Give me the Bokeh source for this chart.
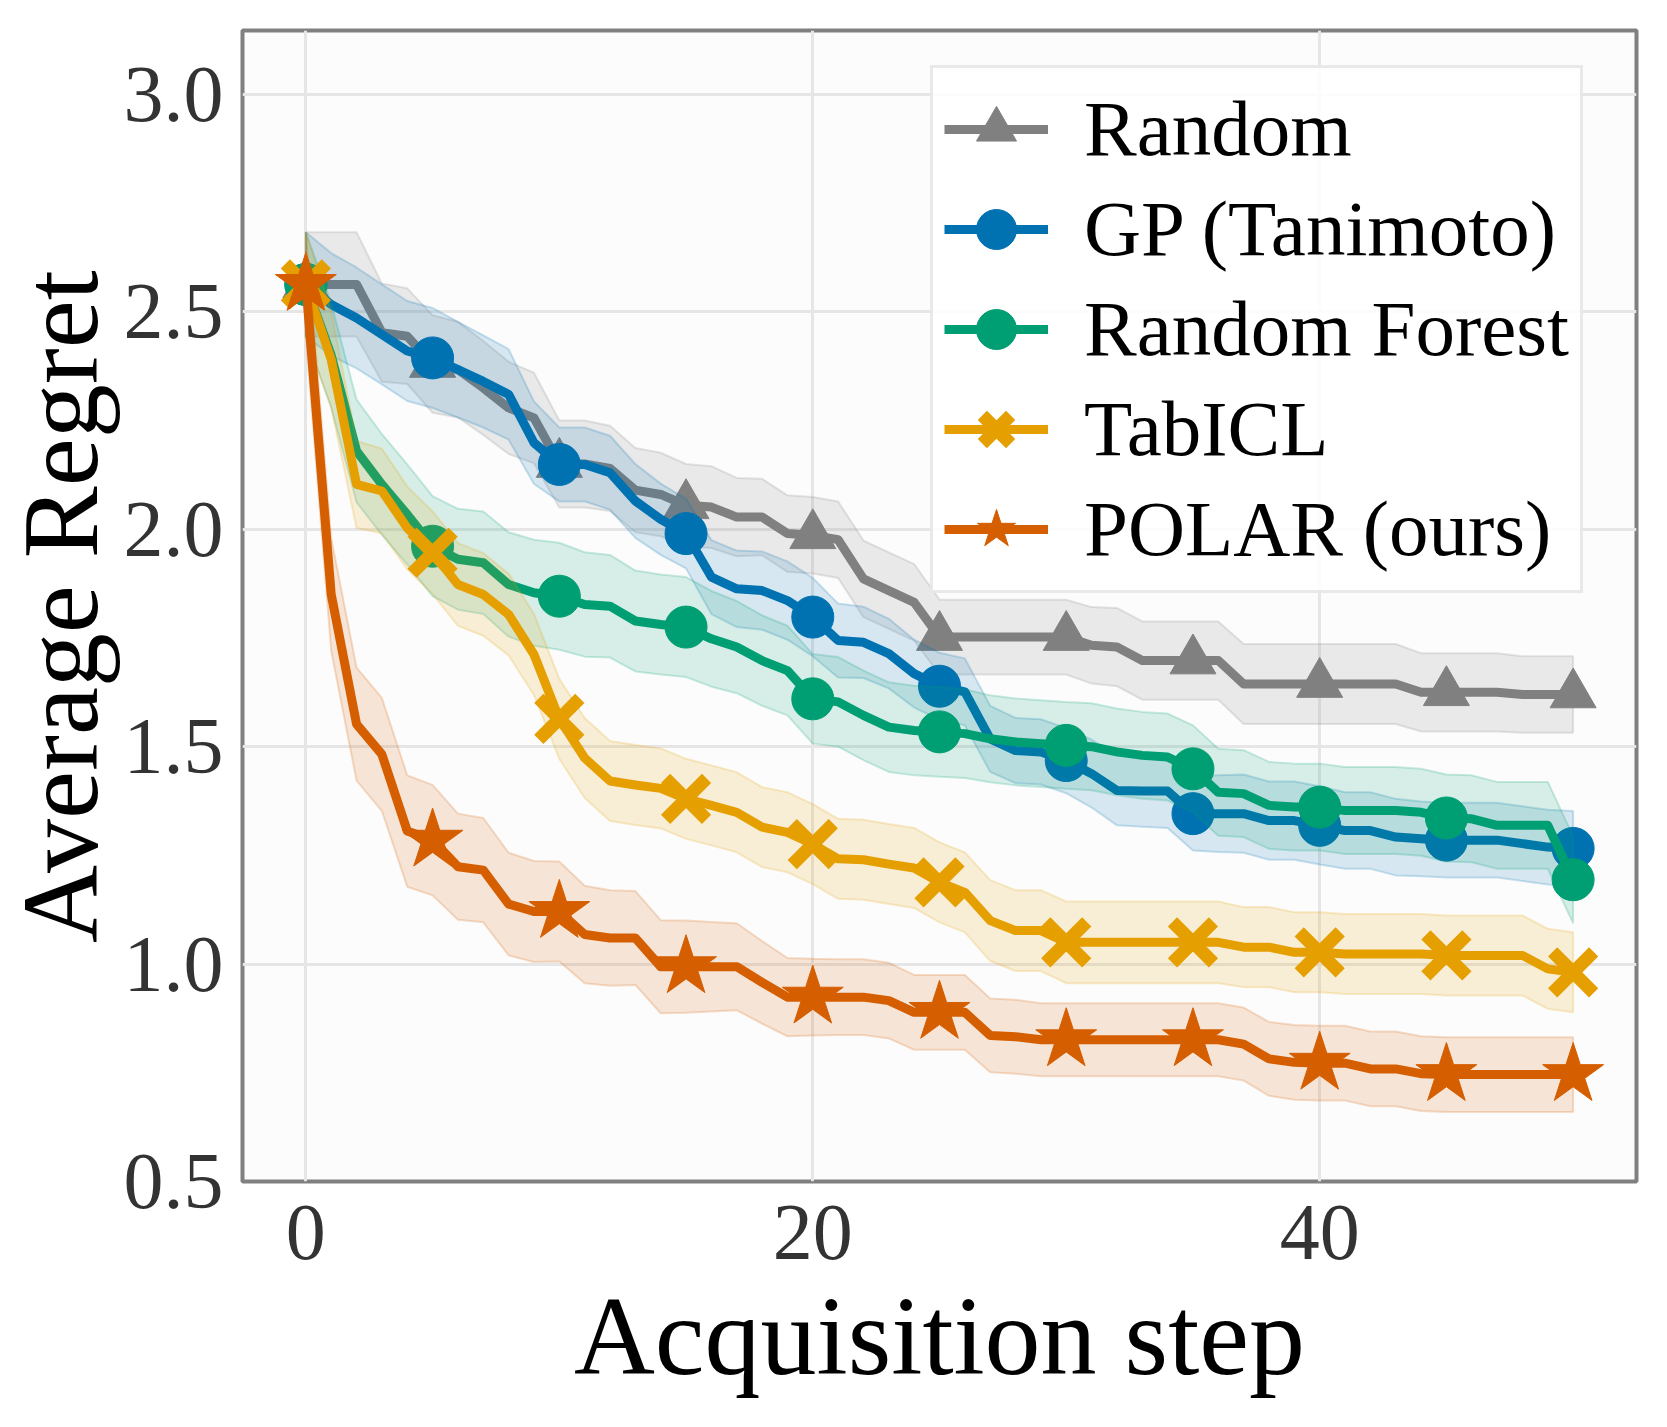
from bokeh.plotting import figure
from bokeh.layouts import row
from bokeh.models import FixedTicker, Legend, LegendItem, NumeralTickFormatter, Range1d
from bokeh.core.properties import value
from bokeh.embed import file_html
from bokeh.resources import INLINE

# Acquisition steps and the steps that carry a marker
steps = list(range(51))
marker_steps = list(range(0, 51, 5))

# Average regret (mean) per step and the half-width of the shaded band
random_mean = [2.563, 2.563, 2.563, 2.452, 2.444, 2.38, 2.367, 2.325, 2.279, 2.256,
               2.15, 2.15, 2.14, 2.09, 2.08, 2.055, 2.051, 2.028, 2.028, 1.99,
               1.986, 1.976, 1.886, 1.859, 1.832, 1.752, 1.752, 1.752, 1.752, 1.752,
               1.752, 1.733, 1.729, 1.698, 1.698, 1.698, 1.698, 1.644, 1.644, 1.644,
               1.644, 1.644, 1.644, 1.644, 1.625, 1.625, 1.625, 1.625, 1.62, 1.62, 1.62]
random_spread = [0.12, 0.12, 0.12, 0.113, 0.11, 0.112, 0.11, 0.108, 0.106, 0.104,
                 0.1, 0.1, 0.098, 0.097, 0.096, 0.095, 0.094, 0.09, 0.088, 0.088,
                 0.088, 0.088, 0.088, 0.088, 0.088, 0.086, 0.086, 0.086, 0.086, 0.086,
                 0.086, 0.088, 0.09, 0.09, 0.09, 0.09, 0.09, 0.092, 0.092, 0.092,
                 0.092, 0.092, 0.092, 0.092, 0.09, 0.09, 0.09, 0.09, 0.088, 0.088, 0.088]

gp_mean = [2.563, 2.517, 2.486, 2.448, 2.41, 2.394, 2.367, 2.34, 2.31, 2.199,
           2.149, 2.149, 2.13, 2.065, 2.023, 1.99, 1.89, 1.863, 1.859, 1.836,
           1.798, 1.744, 1.74, 1.714, 1.668, 1.639, 1.626, 1.518, 1.491, 1.488,
           1.468, 1.438, 1.399, 1.398, 1.398, 1.346, 1.346, 1.346, 1.33, 1.33,
           1.319, 1.307, 1.307, 1.292, 1.288, 1.285, 1.285, 1.285, 1.277, 1.269, 1.266]
gp_spread = [0.12, 0.118, 0.116, 0.115, 0.115, 0.115, 0.11, 0.106, 0.104, 0.095,
             0.085, 0.085, 0.085, 0.085, 0.082, 0.08, 0.085, 0.088, 0.09, 0.09,
             0.09, 0.085, 0.082, 0.08, 0.078, 0.077, 0.077, 0.076, 0.075, 0.075,
             0.075, 0.078, 0.08, 0.082, 0.085, 0.085, 0.088, 0.09, 0.09, 0.09,
             0.09, 0.088, 0.088, 0.088, 0.086, 0.086, 0.086, 0.086, 0.086, 0.086, 0.086]

rf_mean = [2.563, 2.40, 2.18, 2.103, 2.034, 1.961, 1.931, 1.923, 1.873, 1.854,
           1.846, 1.827, 1.823, 1.789, 1.781, 1.775, 1.748, 1.729, 1.698, 1.675,
           1.61, 1.603, 1.572, 1.545, 1.537, 1.534, 1.53, 1.518, 1.511, 1.507,
           1.503, 1.50, 1.488, 1.48, 1.476, 1.449, 1.395, 1.392, 1.365, 1.361,
           1.361, 1.353, 1.353, 1.353, 1.349, 1.336, 1.334, 1.319, 1.319, 1.319, 1.194]
rf_spread = [0.12, 0.12, 0.118, 0.116, 0.115, 0.115, 0.116, 0.118, 0.12, 0.122,
             0.123, 0.12, 0.118, 0.116, 0.115, 0.115, 0.11, 0.106, 0.104, 0.103,
             0.103, 0.103, 0.103, 0.103, 0.103, 0.103, 0.102, 0.1, 0.1, 0.1,
             0.1, 0.1, 0.1, 0.1, 0.1, 0.1, 0.1, 0.1, 0.1, 0.1,
             0.1, 0.1, 0.1, 0.1, 0.1, 0.1, 0.1, 0.1, 0.1, 0.1, 0.1]

tabicl_mean = [2.563, 2.39, 2.103, 2.088, 2.003, 1.946, 1.873, 1.85, 1.804, 1.712,
               1.564, 1.474, 1.421, 1.412, 1.404, 1.38, 1.365, 1.349, 1.315, 1.303,
               1.276, 1.242, 1.24, 1.23, 1.221, 1.188, 1.165, 1.10, 1.077, 1.077,
               1.05, 1.05, 1.05, 1.05, 1.05, 1.05, 1.05, 1.039, 1.039, 1.027,
               1.027, 1.023, 1.023, 1.023, 1.023, 1.02, 1.02, 1.02, 1.02, 0.989, 0.981]
tabicl_spread = [0.12, 0.11, 0.1, 0.097, 0.095, 0.095, 0.095, 0.095, 0.094, 0.093,
                 0.092, 0.092, 0.092, 0.092, 0.092, 0.092, 0.092, 0.092, 0.092, 0.092,
                 0.092, 0.092, 0.092, 0.092, 0.092, 0.092, 0.092, 0.093, 0.093, 0.093,
                 0.094, 0.094, 0.094, 0.094, 0.094, 0.094, 0.094, 0.092, 0.092, 0.092,
                 0.092, 0.092, 0.092, 0.092, 0.092, 0.092, 0.092, 0.092, 0.092, 0.092, 0.092]

polar_mean = [2.563, 1.85, 1.552, 1.482, 1.306, 1.285, 1.224, 1.216, 1.138, 1.121,
              1.121, 1.068, 1.06, 1.06, 0.994, 0.994, 0.994, 0.994, 0.958, 0.924,
              0.924, 0.924, 0.924, 0.916, 0.889, 0.889, 0.889, 0.836, 0.833, 0.826,
              0.826, 0.826, 0.826, 0.826, 0.826, 0.826, 0.826, 0.816, 0.782, 0.774,
              0.772, 0.772, 0.759, 0.759, 0.748, 0.746, 0.746, 0.746, 0.746, 0.746, 0.746]
polar_spread = [0.12, 0.13, 0.13, 0.13, 0.128, 0.127, 0.122, 0.12, 0.118, 0.116,
                0.115, 0.112, 0.11, 0.108, 0.107, 0.106, 0.103, 0.1, 0.095, 0.09,
                0.088, 0.087, 0.087, 0.087, 0.086, 0.086, 0.086, 0.085, 0.085, 0.084,
                0.084, 0.084, 0.084, 0.084, 0.084, 0.084, 0.084, 0.084, 0.085, 0.086,
                0.086, 0.086, 0.086, 0.086, 0.086, 0.086, 0.086, 0.086, 0.086, 0.086, 0.086]

labels = ["Random", "GP (Tanimoto)", "Random Forest", "TabICL", "POLAR (ours)"]
colors = ["#808080", "#0072B2", "#009E73", "#E69F00", "#D55E00"]
markers = ["triangle", "circle", "circle", "x", "star"]
marker_sizes = [46, 42, 42, 58, 64]
marker_line_widths = [1, 1, 1, 13, 1]
means = [random_mean, gp_mean, rf_mean, tabicl_mean, polar_mean]
spreads = [random_spread, gp_spread, rf_spread, tabicl_spread, polar_spread]

SERIF = "Liberation Serif"
TOTAL_W, TOTAL_H = 1667, 1427
FRAME_LEFT = 242
TITLE_W = 120  # narrow strip on the left that carries the y-axis title
Y_LO, Y_HI = 0.5, 3.147

p = figure(width=TOTAL_W - TITLE_W, height=TOTAL_H,
           x_range=Range1d(-2.5, 52.5), y_range=Range1d(Y_LO, Y_HI),
           output_backend="svg", toolbar_location=None,
           min_border_left=FRAME_LEFT - TITLE_W, min_border_right=31,
           min_border_top=30, min_border_bottom=246)

p.background_fill_color = "#fcfcfc"
p.border_fill_color = "white"
p.outline_line_color = "#808080"
p.outline_line_width = 4

p.xgrid.grid_line_color = "#e6e6e6"
p.ygrid.grid_line_color = "#e6e6e6"
p.xgrid.grid_line_width = 3
p.ygrid.grid_line_width = 3

items = []
for name, mean, spread, color, marker, msize, mlw in zip(
        labels, means, spreads, colors, markers, marker_sizes, marker_line_widths):
    lower = [m - s for m, s in zip(mean, spread)]
    upper = [m + s for m, s in zip(mean, spread)]
    p.patch(steps + steps[::-1], upper + lower[::-1],
            fill_color=color, fill_alpha=0.15,
            line_color=color, line_alpha=0.2, line_width=2)
    line = p.line(steps, mean, line_color=color, line_width=9, line_join="round")
    mx = [steps[i] for i in marker_steps]
    my = [mean[i] for i in marker_steps]
    pts = p.scatter(mx, my, marker=marker, size=msize,
                    fill_color=color, line_color=color, line_width=mlw)
    items.append(LegendItem(label=name, renderers=[line, pts]))

# legend box: left edge 688 px right of the frame's left edge, bottom 588 px above the frame bottom
legend = Legend(items=items, location=(688, 588), margin=0,
                padding=11, spacing=0, glyph_width=104, glyph_height=100,
                label_height=100, label_standoff=36,
                label_text_font=SERIF, label_text_font_size="79px",
                label_text_color="black",
                border_line_color="#d4d4d4", border_line_width=3,
                background_fill_color="white", background_fill_alpha=0.85)
p.add_layout(legend)

p.xaxis.ticker = FixedTicker(ticks=[0, 20, 40])
p.yaxis.ticker = FixedTicker(ticks=[0.5, 1.0, 1.5, 2.0, 2.5, 3.0])
p.yaxis.formatter = NumeralTickFormatter(format="0.0")

p.axis.axis_line_color = None
p.axis.major_tick_line_color = None
p.axis.minor_tick_line_color = None
p.axis.major_tick_out = 0
p.axis.major_tick_in = 0
p.axis.minor_tick_out = 0
p.axis.minor_tick_in = 0
p.axis.major_label_text_font = SERIF
p.axis.major_label_text_font_size = "80px"
p.axis.major_label_text_color = "#333333"
p.xaxis.major_label_standoff = 24
p.yaxis.major_label_standoff = 19

p.xaxis.axis_label = "Acquisition step"
p.xaxis.axis_label_text_font = SERIF
p.xaxis.axis_label_text_font_size = "112px"
p.xaxis.axis_label_text_font_style = "normal"
p.xaxis.axis_label_text_color = "black"
p.xaxis.axis_label_standoff = 12

# y-axis title, drawn in its own strip (same vertical scale as the plot)
ylab = figure(width=TITLE_W, height=TOTAL_H,
              x_range=Range1d(0, TITLE_W), y_range=Range1d(Y_LO, Y_HI),
              x_axis_type=None, y_axis_type=None,
              output_backend="svg", toolbar_location=None,
              min_border_left=0, min_border_right=0,
              min_border_top=30, min_border_bottom=246,
              outline_line_color=None)
ylab.background_fill_color = "white"
ylab.border_fill_color = "white"
ylab.text(x=[60], y=[1.822], text=["Average Regret"], angle=1.5708,
          text_align="center", text_baseline="middle",
          text_font=value(SERIF), text_font_size="108px", text_color="black")

layout = row(ylab, p, spacing=0)
open("out.html", "w").write(file_html(layout, INLINE))
